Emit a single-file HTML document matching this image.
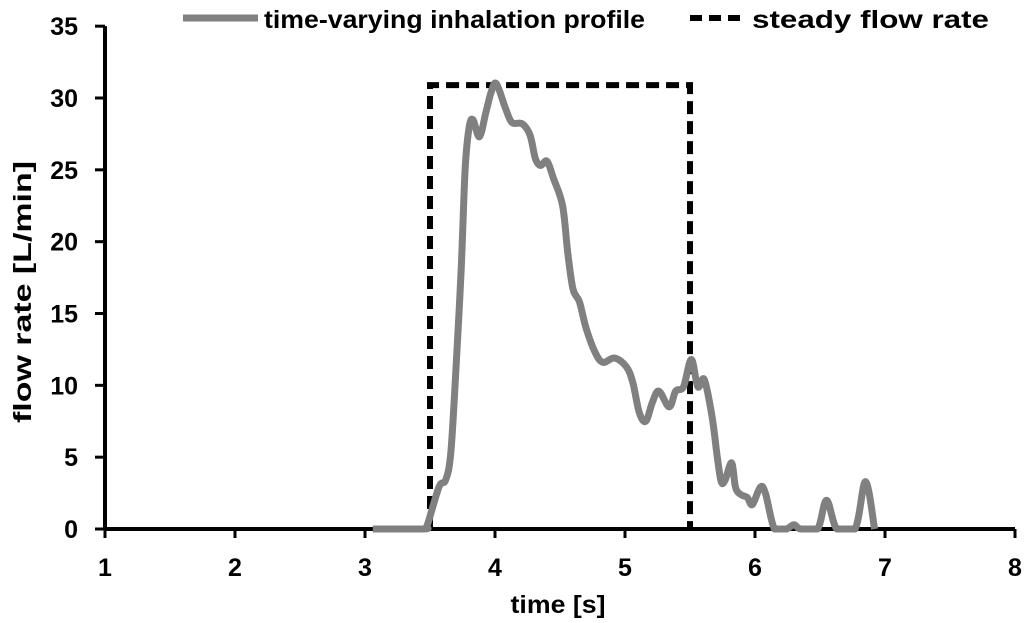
<!DOCTYPE html>
<html><head><meta charset="utf-8"><style>
body{margin:0;background:#fff;}
svg{display:block;font-family:"Liberation Sans",sans-serif;font-weight:bold;}
</style></head><body>
<svg id="chart" width="1024" height="623">
<g id="axes"></g>
<g id="series"></g>
<g id="legend">
 <line x1="183" y1="18" x2="258" y2="18" stroke="#808080" stroke-width="7"/>
 <text x="264" y="28" font-size="25" textLength="381" lengthAdjust="spacingAndGlyphs">time-varying inhalation profile</text>
 <line x1="690" y1="18" x2="746" y2="18" stroke="#000" stroke-width="6" stroke-dasharray="12,7"/>
 <text x="752" y="28" font-size="25" textLength="237" lengthAdjust="spacingAndGlyphs">steady flow rate</text>
</g>
<text x="558" y="613" font-size="25" text-anchor="middle" textLength="95" lengthAdjust="spacingAndGlyphs">time [s]</text>
<text transform="translate(31,292) rotate(-90)" font-size="25" text-anchor="middle" textLength="262" lengthAdjust="spacingAndGlyphs">flow rate [L/min]</text>
</svg>
<script>
const xTicks=[1,2,3,4,5,6,7,8];
const yTicks=[0,5,10,15,20,25,30,35];
const profileT=[3.06,3.45,3.48,3.57,3.62,3.66,3.7,3.74,3.77,3.8,3.83,3.88,3.93,3.97,4.01,4.08,4.13,4.21,4.27,4.31,4.35,4.4,4.45,4.52,4.56,4.6,4.65,4.7,4.77,4.83,4.92,5.01,5.06,5.11,5.16,5.21,5.26,5.34,5.39,5.45,5.51,5.56,5.61,5.67,5.71,5.74,5.77,5.82,5.85,5.89,5.94,5.98,6.04,6.08,6.15,6.24,6.3,6.35,6.48,6.55,6.63,6.77,6.85,6.92];
const profileV=[0,0,0.3,2.95,3.4,5.3,11.2,18.1,25,27.9,28.5,27.3,29,30.4,31,29.3,28.3,28.2,27.4,25.8,25.3,25.6,24.4,22.5,19.2,16.7,15.8,14,12.3,11.6,11.9,11.3,10.2,8.1,7.5,8.8,9.6,8.5,9.6,9.9,11.8,9.9,10.4,7.8,5.0,3.3,3.4,4.6,2.9,2.4,2.2,1.7,2.9,2.5,0,0,0.3,0,0,2.0,0,0,3.3,0];
const steadyT=[3.5,3.5,5.5,5.5];
const steadyV=[0,30.9,30.9,0];
const X=t=>105+(t-1)*130;
const Y=v=>529-v*(431/30);
const NS="http://www.w3.org/2000/svg";
function mk(tag,attrs,parent){const e=document.createElementNS(NS,tag);for(const k in attrs)e.setAttribute(k,attrs[k]);parent.appendChild(e);return e;}
function smooth(pts){let d='M'+pts[0][0]+','+pts[0][1];for(let i=0;i<pts.length-1;i++){const p0=pts[i-1]||pts[i],p1=pts[i],p2=pts[i+1],p3=pts[i+2]||p2;const c1=[p1[0]+(p2[0]-p0[0])/6,Math.min(Y(0),p1[1]+(p2[1]-p0[1])/6)],c2=[p2[0]-(p3[0]-p1[0])/6,Math.min(Y(0),p2[1]-(p3[1]-p1[1])/6)];d+='C'+c1+' '+c2+' '+p2;}return d;}
const ax=document.getElementById('axes');
let l=mk('line',{x1:X(1),y1:Y(0),x2:X(8),y2:Y(0),stroke:'#000','stroke-width':4},ax);


let ly=mk('line',{x1:X(1),y1:Y(0),x2:X(1),y2:Y(35),stroke:'#000','stroke-width':4},ax);


xTicks.forEach(t=>{
 const tk=mk('line',{x1:X(t),y1:Y(0),x2:X(t),y2:Y(0)+9,stroke:'#000','stroke-width':3},ax);
 
 
 const tx=mk('text',{x:X(t),y:Y(0)+47,'font-size':25,'text-anchor':'middle'},ax);
 tx.textContent=t;
 
 
});
yTicks.forEach(v=>{
 const tk=mk('line',{x1:X(1)-10,y1:Y(v),x2:X(1),y2:Y(v),stroke:'#000','stroke-width':3},ax);
 
 
 const tx=mk('text',{x:78,y:Y(v)+9,'font-size':25,'text-anchor':'end'},ax);
 tx.textContent=v;
 
 
});
const se=document.getElementById('series');
const sp=mk('path',{d:steadyT.map((t,i)=>(i?'L':'M')+X(t)+','+Y(steadyV[i])).join(''),fill:'none',stroke:'#000','stroke-width':6,'stroke-dasharray':'13,7'},se);


const pp=mk('path',{d:smooth(profileT.map((t,i)=>[X(t),Y(profileV[i])])),fill:'none',stroke:'#808080','stroke-width':7,'stroke-linejoin':'round'},se);


</script>
</body></html>
